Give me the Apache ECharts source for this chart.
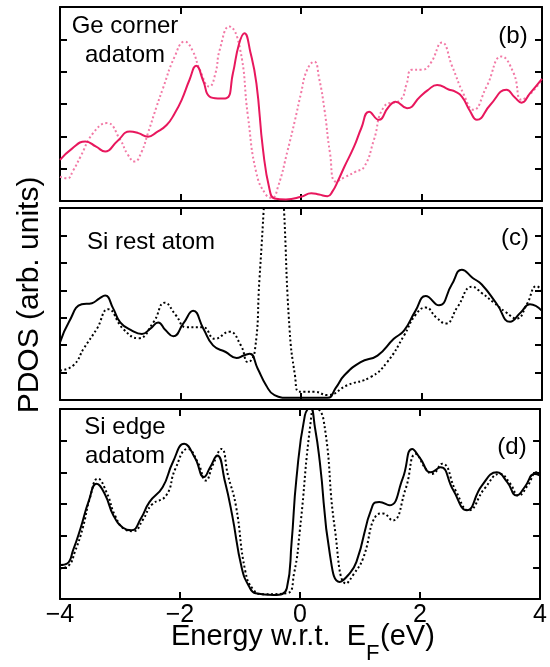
<!DOCTYPE html>
<html>
<head>
<meta charset="utf-8">
<script src="https://cdn.jsdelivr.net/npm/echarts@6/dist/echarts.min.js"></script>
<style>
  html, body { margin: 0; padding: 0; background: #fff; }
  #main { width: 550px; height: 667px; }
</style>
</head>
<body>
<div id="main"></div>
<script>
// energy ticks
const xTicks = [-4, -2, 0, 2, 4]

// panel tops (in tick units)
const panelMax = [6, 7, 6]

// (b) Ge corner adatom  [E, PDOS]
const geSolid = [
  [-4.00, 1.27], [-3.80, 1.62], [-3.58, 1.84], [-3.40, 1.68], [-3.25, 1.53], [-3.05, 1.85],
  [-2.84, 2.15], [-2.70, 2.10], [-2.54, 1.99], [-2.40, 2.12], [-2.23, 2.35], [-2.10, 2.70],
  [-1.98, 3.13], [-1.85, 3.75], [-1.74, 4.18], [-1.62, 3.70], [-1.52, 3.23], [-1.38, 3.17],
  [-1.24, 3.18], [-1.13, 3.95], [-1.03, 4.85], [-0.94, 5.19], [-0.84, 4.60], [-0.74, 3.64],
  [-0.63, 1.58], [-0.52, 0.34], [-0.44, 0.08], [-0.25, 0.05], [0.00, 0.13], [0.17, 0.24],
  [0.30, 0.20], [0.44, 0.15], [0.52, 0.29], [0.62, 0.65], [0.72, 1.06], [0.88, 1.68],
  [1.00, 2.25], [1.13, 2.76], [1.29, 2.51], [1.45, 2.90], [1.57, 3.07], [1.76, 2.87],
  [1.98, 3.23], [2.10, 3.42], [2.26, 3.59], [2.45, 3.45], [2.56, 3.38], [2.67, 3.23],
  [2.80, 2.80], [2.92, 2.51], [3.14, 2.97], [3.41, 3.44], [3.55, 3.20], [3.66, 3.04],
  [3.80, 3.33], [4.00, 3.78]
]
const geDotted = [
  [-4.00, 0.75], [-3.88, 0.70], [-3.78, 0.95], [-3.66, 1.37], [-3.45, 2.10], [-3.22, 2.41],
  [-3.00, 1.89], [-2.88, 1.45], [-2.76, 1.22], [-2.65, 1.50], [-2.54, 2.10], [-2.40, 2.90],
  [-2.29, 3.49], [-2.10, 4.45], [-1.93, 4.93], [-1.80, 4.65], [-1.68, 4.06], [-1.52, 3.54],
  [-1.42, 3.95], [-1.35, 4.67], [-1.19, 5.40], [-1.02, 4.78], [-0.88, 2.61], [-0.74, 0.86],
  [-0.58, 0.19], [-0.48, 0.10], [-0.38, 0.45], [-0.22, 1.58], [-0.10, 2.50], [0.00, 3.33],
  [0.10, 4.05], [0.22, 4.31], [0.30, 3.80], [0.39, 2.82], [0.48, 1.50], [0.58, 0.60],
  [0.74, 0.75], [0.90, 0.90], [1.05, 1.06], [1.21, 1.89], [1.38, 2.92], [1.65, 3.13],
  [1.75, 3.60], [1.84, 4.06], [2.01, 4.06], [2.15, 4.26], [2.34, 4.90], [2.51, 4.16],
  [2.70, 3.30], [2.86, 2.82], [3.08, 3.54], [3.33, 4.47], [3.53, 3.95], [3.66, 3.13],
  [3.80, 3.30], [4.00, 3.75]
]

// (c) Si rest atom
const restSolid = [
  [-4.00, 2.10], [-3.85, 2.85], [-3.64, 3.49], [-3.47, 3.53], [-3.35, 3.70], [-3.25, 3.81],
  [-3.12, 3.35], [-3.00, 2.83], [-2.82, 2.55], [-2.64, 2.41], [-2.50, 2.60], [-2.37, 2.83],
  [-2.25, 2.55], [-2.12, 2.32], [-1.95, 2.80], [-1.79, 3.25], [-1.62, 2.60], [-1.46, 1.99],
  [-1.25, 1.75], [-1.07, 1.53], [-0.95, 1.62], [-0.85, 1.69], [-0.72, 1.15], [-0.58, 0.54],
  [-0.44, 0.18], [-0.20, 0.08], [0.20, 0.08], [0.44, 0.08], [0.58, 0.45], [0.72, 0.90],
  [0.99, 1.38], [1.27, 1.62], [1.54, 2.23], [1.71, 2.53], [1.90, 3.25], [2.07, 3.79],
  [2.29, 3.45], [2.50, 4.20], [2.67, 4.75], [2.85, 4.45], [3.00, 4.21], [3.25, 3.50],
  [3.47, 2.85], [3.65, 3.20], [3.80, 3.49], [4.00, 3.25]
]
const restDotted = [
  [-4.00, 1.08], [-3.78, 1.26], [-3.60, 1.90], [-3.39, 2.59], [-3.20, 3.31], [-2.95, 2.59],
  [-2.70, 2.25], [-2.45, 2.83], [-2.26, 3.55], [-2.08, 3.10], [-1.90, 2.65], [-1.63, 2.65],
  [-1.43, 2.23], [-1.19, 2.49], [-1.00, 2.00], [-0.88, 1.38], [-0.77, 1.74], [-0.69, 4.39],
  [-0.62, 6.90], [-0.53, 10.5], [-0.45, 12.0], [-0.36, 10.5], [-0.28, 6.86], [-0.19, 2.59],
  [-0.10, 0.90], [-0.03, 0.30], [0.22, 0.30], [0.44, 0.18], [0.77, 0.54], [1.16, 0.84],
  [1.43, 1.38], [1.71, 2.35], [1.90, 3.10], [2.07, 3.37], [2.25, 3.00], [2.40, 2.79],
  [2.60, 3.40], [2.84, 4.13], [3.00, 3.90], [3.20, 3.55], [3.40, 3.20], [3.58, 2.97],
  [3.75, 3.50], [3.91, 4.15], [4.00, 4.00]
]

// (d) Si edge adatom
const edgeSolid = [
  [-4.00, 1.07], [-3.88, 1.12], [-3.78, 1.55], [-3.66, 2.22], [-3.52, 3.10], [-3.39, 3.64],
  [-3.25, 3.30], [-3.11, 2.64], [-2.95, 2.25], [-2.81, 2.17], [-2.65, 2.55], [-2.51, 3.06],
  [-2.29, 3.53], [-2.12, 4.32], [-1.93, 4.90], [-1.75, 4.45], [-1.60, 3.85], [-1.50, 4.15],
  [-1.38, 4.53], [-1.25, 3.70], [-1.13, 2.64], [-0.97, 0.97], [-0.85, 0.40], [-0.74, 0.18],
  [-0.44, 0.13], [-0.22, 0.34], [-0.14, 1.80], [-0.06, 3.80], [0.08, 5.79], [0.17, 6.05],
  [0.25, 5.40], [0.33, 4.32], [0.50, 1.38], [0.66, 0.54], [0.80, 0.75], [0.94, 1.17],
  [1.21, 2.96], [1.32, 3.06], [1.49, 2.96], [1.71, 3.80], [1.87, 4.74], [2.00, 4.45],
  [2.18, 4.00], [2.34, 4.16], [2.55, 3.45], [2.78, 2.80], [3.03, 3.58], [3.28, 4.00],
  [3.45, 3.70], [3.61, 3.27], [3.75, 3.55], [3.91, 3.95], [4.00, 3.90]
]
const edgeDotted = [
  [-4.00, 0.97], [-3.86, 1.05], [-3.75, 1.50], [-3.62, 2.25], [-3.50, 3.20], [-3.37, 3.80],
  [-3.22, 3.35], [-3.08, 2.62], [-2.92, 2.20], [-2.78, 2.14], [-2.62, 2.50], [-2.47, 2.98],
  [-2.23, 3.27], [-2.08, 4.10], [-1.87, 4.74], [-1.70, 4.30], [-1.57, 3.74], [-1.45, 4.25],
  [-1.31, 4.74], [-1.20, 3.90], [-1.07, 2.96], [-0.91, 0.86], [-0.78, 0.30], [-0.63, 0.15],
  [-0.22, 0.18], [-0.10, 0.80], [0.00, 2.22], [0.17, 5.47], [0.25, 6.05], [0.39, 5.68],
  [0.58, 2.22], [0.77, 0.49], [0.90, 0.80], [1.05, 1.28], [1.27, 2.64], [1.38, 2.70],
  [1.54, 2.48], [1.76, 3.48], [1.93, 4.58], [2.10, 4.10], [2.20, 3.95], [2.37, 4.27],
  [2.60, 3.40], [2.81, 2.80], [3.08, 3.50], [3.33, 3.95], [3.50, 3.65], [3.64, 3.27],
  [3.80, 3.60], [3.94, 4.00], [4.00, 3.95]
]

const FONT = '"Liberation Sans", Arial, Helvetica, sans-serif'
const RED = '#e8175d'
const PINK = '#f27aa6'

const grids = [
  { left: 60, top: 7, width: 482, height: 194 },
  { left: 60, top: 208, width: 482, height: 192 },
  { left: 60, top: 409, width: 482, height: 190 }
]

const axisLine = { show: true, onZero: false, lineStyle: { color: '#000', width: 2 } }
const axisTick = { show: true, inside: true, length: 7, lineStyle: { color: '#000', width: 2 } }

const xAxes = []
const yAxes = []
grids.forEach((g, i) => {
  ;['bottom', 'top'].forEach(pos => {
    xAxes.push({
      type: 'value', gridIndex: i, position: pos,
      min: xTicks[0], max: xTicks[xTicks.length - 1], interval: 2,
      axisLine, axisTick, splitLine: { show: false },
      axisLabel: {
        show: i === 2 && pos === 'bottom',
        margin: 4,
        fontSize: 25, fontFamily: FONT, color: '#000',
        formatter: v => (v < 0 ? '\u2212' + Math.abs(v) : String(v))
      }
    })
  })
  ;['left', 'right'].forEach(pos => {
    yAxes.push({
      type: 'value', gridIndex: i, position: pos,
      min: 0, max: panelMax[i], interval: 1,
      axisLine, axisTick, splitLine: { show: false },
      axisLabel: { show: false }
    })
  })
})

const line = (idx, data, color, dotted) => ({
  type: 'line', xAxisIndex: idx * 2, yAxisIndex: idx * 2,
  data, showSymbol: false, smooth: 0.5, clip: true,
  lineStyle: { color, width: 2, type: dotted ? [2, 2.5] : 'solid' },
  z: dotted ? 2 : 3
})

const txt = (x, y, text, size, extra) => Object.assign({
  type: 'text', x, y, silent: true,
  style: { text, font: size + 'px ' + FONT, fill: '#000', align: 'center', verticalAlign: 'middle', lineHeight: 29 }
}, extra || {})

const chart = echarts.init(document.getElementById('main'))
chart.setOption({
  animation: false,
  backgroundColor: '#fff',
  grid: grids,
  xAxis: xAxes,
  yAxis: yAxes,
  series: [
    line(0, geDotted, PINK, true),
    line(0, geSolid, RED, false),
    line(1, restDotted, '#000', true),
    line(1, restSolid, '#000', false),
    line(2, edgeDotted, '#000', true),
    line(2, edgeSolid, '#000', false)
  ],
  graphic: [
    txt(125, 41, 'Ge corner\nadatom', 24),
    txt(513, 36, '(b)', 24),
    txt(151, 242, 'Si rest atom', 24),
    txt(515, 238, '(c)', 24),
    txt(125, 442, 'Si edge\nadatom', 24),
    txt(512, 447, '(d)', 24),
    txt(30, 295, 'PDOS (arb. units)', 30, { rotation: Math.PI / 2 }),
    { type: 'text', x: 366, y: 637, silent: true,
      style: { text: 'Energy w.r.t.  E', font: '29px ' + FONT, fill: '#000', align: 'right', verticalAlign: 'middle' } },
    { type: 'text', x: 366, y: 654, silent: true,
      style: { text: 'F', font: '22px ' + FONT, fill: '#000', align: 'left', verticalAlign: 'middle' } },
    { type: 'text', x: 380, y: 637, silent: true,
      style: { text: '(eV)', font: '29px ' + FONT, fill: '#000', align: 'left', verticalAlign: 'middle' } }
  ]
})
</script>
</body>
</html>
